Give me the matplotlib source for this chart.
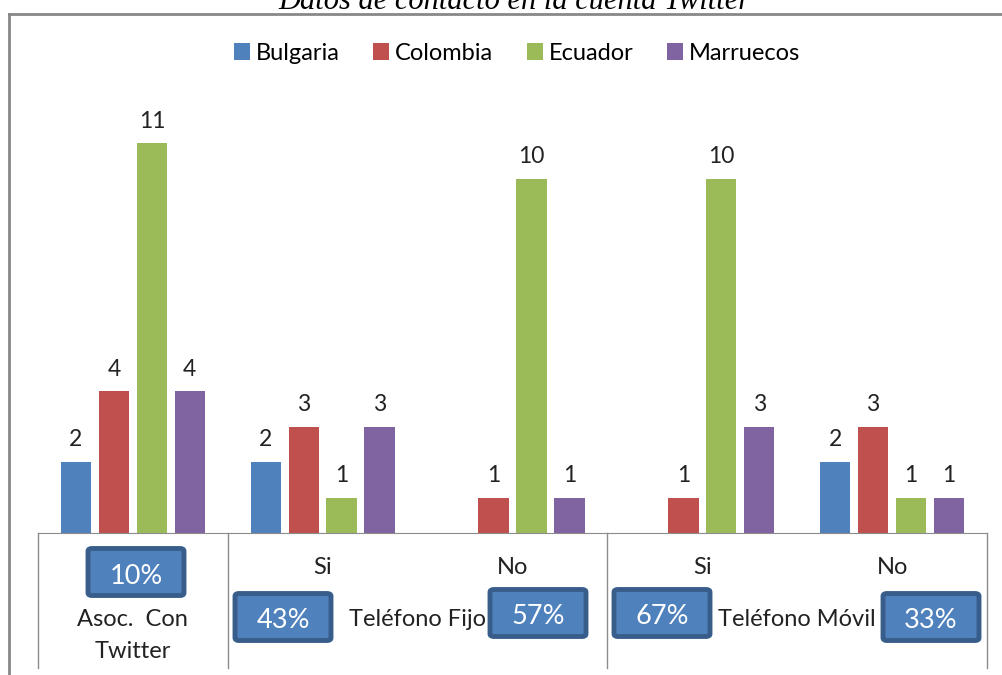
import numpy as np
import matplotlib
matplotlib.use("Agg")
import matplotlib.pyplot as plt
from matplotlib.patches import FancyBboxPatch
from matplotlib.lines import Line2D

plt.rcParams['font.family'] = ['Lato', 'DejaVu Sans']

# data
title = "Datos de contacto en la cuenta Twitter"
series = ["Bulgaria", "Colombia", "Ecuador", "Marruecos"]
colors = ["#4F81BD", "#C0504D", "#9BBB59", "#8064A2"]
sub_labels = ["", "Si", "No", "Si", "No"]
bulgaria = [2, 2, None, None, 2]
colombia = [4, 3, 1, 1, 3]
ecuador = [11, 1, 10, 10, 1]
marruecos = [4, 3, 1, 3, 1]
values = [bulgaria, colombia, ecuador, marruecos]
groups = ["Asoc.  Con\nTwitter", "Teléfono Fijo", "Teléfono Móvil"]
percents = ["10%", "43%", "57%", "67%", "33%"]

W, H = 1003, 675
fig = plt.figure(figsize=(W / 100, H / 100), dpi=100)

def fx(px):
    return px / W

def fy(py):
    return 1 - py / H

base_px, top_px = 533, 108
ax = fig.add_axes([fx(38), fy(base_px), fx(987) - fx(38), (base_px - top_px) / H])
ax.set_xlim(0, 5)
ax.set_ylim(0, 12)

x = np.arange(5) + 0.5
offsets = [-0.3, -0.1, 0.1, 0.3]
for name, col, vals, off in zip(series, colors, values, offsets):
    xs = [xi + off for xi, v in zip(x, vals) if v is not None]
    vs = [v for v in vals if v is not None]
    ax.bar(xs, vs, width=0.16, color=col, label=name, zorder=2)
    for xi, v in zip(xs, vs):
        ax.annotate(str(v), (xi, v), xytext=(0, 8.5), textcoords="offset points",
                    ha="center", va="bottom", fontsize=16.5, color="#222222")

for s in ["top", "right", "left"]:
    ax.spines[s].set_visible(False)
ax.spines["bottom"].set_color("#8c8c8c")
ax.set_xticks([])
ax.set_yticks([])

# table lines below the axis
tr = ax.get_xaxis_transform()
span = base_px - top_px
low = -(668 - base_px) / span
for xv in [0, 1, 3, 5]:
    ax.plot([xv, xv], [0, low], transform=tr, color="#8c8c8c", lw=1, clip_on=False)

# sub labels
for xi, lab in zip(x, sub_labels):
    if lab:
        ax.text(xi, -(568 - base_px) / span, lab, transform=tr,
                ha="center", va="center", fontsize=17, color="#222222")

ax.text(0.5, -(619 - base_px) / span, groups[0].split("\n")[0], transform=tr,
        ha="center", va="center", fontsize=17, color="#222222")
ax.text(0.5, -(651 - base_px) / span, groups[0].split("\n")[1], transform=tr,
        ha="center", va="center", fontsize=17, color="#222222")
ax.text(2.0, -(619 - base_px) / span, groups[1], transform=tr,
        ha="center", va="center", fontsize=17, color="#222222")
ax.text(4.0, -(619 - base_px) / span, groups[2], transform=tr,
        ha="center", va="center", fontsize=17, color="#222222")

# percentage boxes
box_pos = [(136, 572), (283, 617), (538, 613), (662, 613), (931, 617)]
bw, bh = 96, 47
for (cx, cy), p in zip(box_pos, percents):
    box = FancyBboxPatch((fx(cx - bw / 2), fy(cy + bh / 2)), bw / W, bh / H,
                         boxstyle="round,pad=0,rounding_size=0.004",
                         transform=fig.transFigure, facecolor="#4F81BD",
                         edgecolor="#385D8A", lw=3.5)
    fig.add_artist(box)
    fig.text(fx(cx), fy(cy + 4), p, ha="center", va="center", fontsize=19.5,
             color="white")

ax.legend(loc="center", bbox_to_anchor=(fx(517), fy(53)), bbox_transform=fig.transFigure,
          ncol=4, frameon=False, fontsize=17, handlelength=0.7, handleheight=0.7,
          handletextpad=0.25, columnspacing=1.4)

# outer frame
fig.add_artist(Line2D([fx(9), 1], [fy(14), fy(14)], color="#888888", lw=2))
fig.add_artist(Line2D([fx(9), fx(9)], [0, fy(14)], color="#888888", lw=2))

fig.text(fx(514), fy(9), title, ha="center", va="baseline", fontsize=22,
         style="italic", family="Liberation Serif")

fig.savefig("out.png", dpi=100)
